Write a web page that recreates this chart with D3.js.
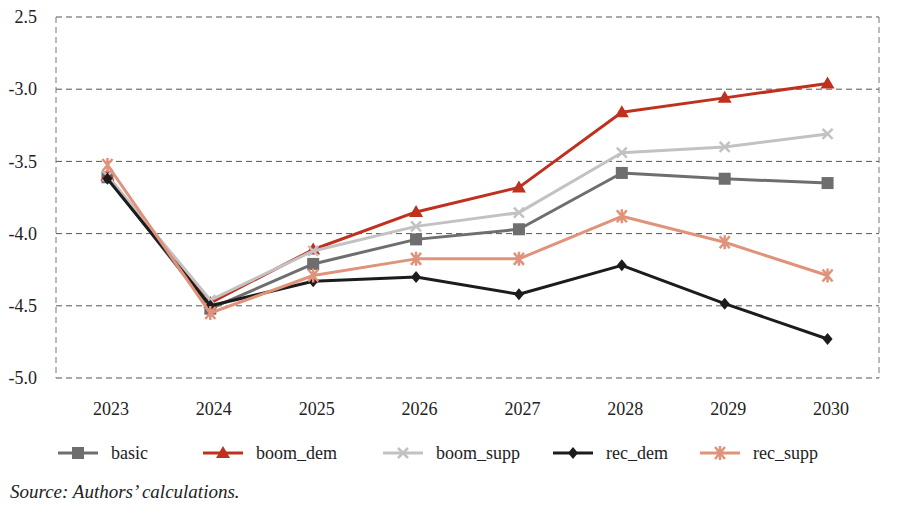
<!DOCTYPE html>
<html>
<head>
<meta charset="utf-8">
<script src="https://cdn.jsdelivr.net/npm/d3@7"></script>
<style>
  body { margin: 0; background: #fff; }
  svg, svg text { font-family: "Liberation Serif", "Tinos", "FreeSerif", serif !important; }
</style>
</head>
<body>
<script>
// Chart data
var years = ["2023", "2024", "2025", "2026", "2027", "2028", "2029", "2030"];
var basic     = [-3.61, -4.52, -4.21, -4.04, -3.97, -3.58, -3.62, -3.65];
var boomDem   = [-3.60, -4.48, -4.11, -3.85, -3.68, -3.16, -3.06, -2.96];
var boomSupp  = [-3.60, -4.46, -4.12, -3.95, -3.855, -3.44, -3.40, -3.31];
var recDem    = [-3.62, -4.50, -4.33, -4.30, -4.42, -4.22, -4.485, -4.73];
var recSupp   = [-3.525, -4.55, -4.29, -4.175, -4.175, -3.88, -4.06, -4.29];
var yTicks = [-2.5, -3.0, -3.5, -4.0, -4.5, -5.0];
var yTickLabels = ["2.5", "-3.0", "-3.5", "-4.0", "-4.5", "-5.0"];

var series = [
  { name: "basic", values: basic, color: "#6e6e6e", marker: "square", legendX: 58 },
  { name: "boom_dem", values: boomDem, color: "#c0301e", marker: "triangle", legendX: 203 },
  { name: "boom_supp", values: boomSupp, color: "#c2c2c2", marker: "x", legendX: 383 },
  { name: "rec_dem", values: recDem, color: "#1c1c1c", marker: "diamond", legendX: 553 },
  { name: "rec_supp", values: recSupp, color: "#e0937a", marker: "star", legendX: 700 }
];

var fontName = "Liberation Serif";

var svgWidth = 900;
var svgHeight = 506;
var margin = { top: 17, right: 21, bottom: 128, left: 56 };
var width = svgWidth - margin.left - margin.right;
var height = svgHeight - margin.top - margin.bottom;

var svg = d3.select("body")
  .append("svg")
  .attr("width", svgWidth)
  .attr("height", svgHeight)
  .attr("font-family", fontName);

var chartGroup = svg.append("g")
  .attr("transform", `translate(${margin.left}, ${margin.top})`);

var xScale = d3.scalePoint()
  .domain(years)
  .range([0, width])
  .padding(0.5);

var yScale = d3.scaleLinear()
  .domain([-5.0, -2.5])
  .range([height, 0]);

// Gridlines
chartGroup.selectAll(".grid")
  .data(yTicks)
  .enter()
  .append("line")
  .attr("x1", 0)
  .attr("x2", width)
  .attr("y1", d => yScale(d))
  .attr("y2", d => yScale(d))
  .attr("stroke", "#555")
  .attr("stroke-width", 1)
  .attr("stroke-dasharray", "6,4");

// Side borders
[0, width].forEach(function(x) {
  chartGroup.append("line")
    .attr("x1", x)
    .attr("x2", x)
    .attr("y1", 0)
    .attr("y2", height)
    .attr("stroke", "#777")
    .attr("stroke-width", 1)
    .attr("stroke-dasharray", "6,4");
});

// Y axis labels
var leftAxis = d3.axisLeft(yScale)
  .tickValues(yTicks)
  .tickFormat((d, i) => yTickLabels[i])
  .tickSize(0)
  .tickPadding(19);

var yAxis = chartGroup.append("g").call(leftAxis)
  .attr("font-family", fontName)
  .attr("font-size", 18);
yAxis.select(".domain").remove();
yAxis.selectAll("text").attr("fill", "#222").attr("font-family", fontName);

// X axis labels
var bottomAxis = d3.axisBottom(xScale)
  .tickSize(0)
  .tickPadding(24);

var xAxis = chartGroup.append("g")
  .attr("transform", `translate(3, ${height})`)
  .call(bottomAxis)
  .attr("font-family", fontName)
  .attr("font-size", 18);
xAxis.select(".domain").remove();
xAxis.selectAll("text").attr("fill", "#222").attr("font-family", fontName);

// Marker drawing
function drawMarker(g, type, color, x, y) {
  if (type === "square") {
    g.append("rect")
      .attr("x", x - 6).attr("y", y - 6)
      .attr("width", 12).attr("height", 12)
      .attr("fill", color);
  } else if (type === "triangle") {
    g.append("path")
      .attr("d", `M${x},${y - 7} L${x + 7},${y + 5} L${x - 7},${y + 5} Z`)
      .attr("fill", color);
  } else if (type === "diamond") {
    g.append("path")
      .attr("d", `M${x},${y - 6} L${x + 5},${y} L${x},${y + 6} L${x - 5},${y} Z`)
      .attr("fill", color);
  } else if (type === "x") {
    g.append("path")
      .attr("d", `M${x - 5},${y - 5} L${x + 5},${y + 5} M${x + 5},${y - 5} L${x - 5},${y + 5}`)
      .attr("stroke", color).attr("stroke-width", 2.5);
  } else if (type === "star") {
    g.append("path")
      .attr("d", `M${x - 5},${y - 6} L${x + 5},${y + 6} M${x + 5},${y - 6} L${x - 5},${y + 6} M${x},${y - 7} L${x},${y + 7}`)
      .attr("stroke", color).attr("stroke-width", 2.5);
  }
}

var line = d3.line()
  .x((d, i) => xScale(years[i]))
  .y(d => yScale(d));

// Lines and markers
series.forEach(function(s) {
  chartGroup.append("path")
    .datum(s.values)
    .attr("d", line)
    .attr("fill", "none")
    .attr("stroke", s.color)
    .attr("stroke-width", 3)
    .attr("stroke-linejoin", "round");

  var markers = chartGroup.append("g");
  s.values.forEach(function(v, i) {
    drawMarker(markers, s.marker, s.color, xScale(years[i]), yScale(v));
  });
});

// Legend
var legend = svg.append("g").attr("transform", "translate(0, 453)");
series.forEach(function(s) {
  var lx = s.legendX;
  legend.append("line")
    .attr("x1", lx).attr("x2", lx + 40)
    .attr("y1", 0).attr("y2", 0)
    .attr("stroke", s.color)
    .attr("stroke-width", 3);
  drawMarker(legend, s.marker, s.color, lx + 20, 0);
  legend.append("text")
    .attr("x", lx + 53)
    .attr("y", 6)
    .attr("fill", "#222")
    .attr("font-family", fontName)
    .attr("font-size", 18)
    .text(s.name);
});

// Source note
svg.append("text")
  .attr("x", 10)
  .attr("y", 498)
  .attr("fill", "#222")
  .attr("font-family", fontName)
  .attr("font-size", 19)
  .attr("font-style", "italic")
  .text("Source: Authors’ calculations.");
</script>
</body>
</html>
